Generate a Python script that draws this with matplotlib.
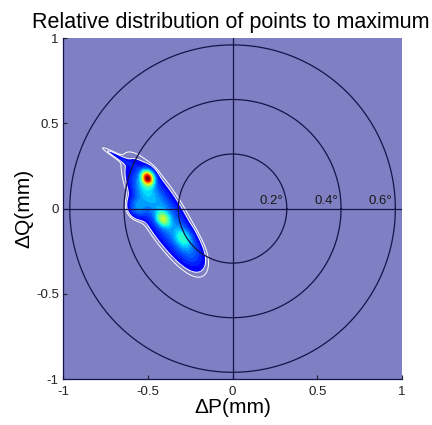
import numpy as np
import matplotlib.pyplot as plt

# blob components: centre, spread along/across, angle, relative height
blob_x = [-0.50, -0.41, -0.29, -0.56, -0.41, -0.25, -0.67, -0.52]
blob_y = [0.18, -0.06, -0.17, 0.01, -0.03, -0.24, 0.30, 0.12]
blob_major = [0.028, 0.03, 0.04, 0.04, 0.20, 0.07, 0.09, 0.06]
blob_minor = [0.022, 0.022, 0.03, 0.035, 0.06, 0.04, 0.009, 0.04]
blob_angle = [-65, -57, -57, -70, -58, -57, -30, -60]
blob_weight = [0.75, 0.30, 0.16, 0.15, 0.20, 0.08, 0.045, 0.12]

ring_radius = [0.32, 0.64, 0.96]
ring_labels = ['0.2°', '0.4°', '0.6°']
ticks = [-1, -0.5, 0, 0.5, 1]
tick_labels = ['-1', '-0.5', '0', '0.5', '1']

plt.rcParams['font.family'] = ['Liberation Sans', 'DejaVu Sans']

fig = plt.figure(figsize=(4.32, 4.25), dpi=100)
ax = fig.add_axes([0.1458, 0.108, 0.785, 0.8024])
ax.set_facecolor('#7f7fc3')

# density field
g = np.linspace(-1, 1, 400)
X, Y = np.meshgrid(g, g)
Z = np.zeros_like(X)
for cx, cy, sa, sb, ang, w in zip(blob_x, blob_y, blob_major, blob_minor, blob_angle, blob_weight):
    t = np.deg2rad(ang)
    u = (X - cx) * np.cos(t) + (Y - cy) * np.sin(t)
    v = -(X - cx) * np.sin(t) + (Y - cy) * np.cos(t)
    Z += w * np.exp(-0.5 * ((u / sa) ** 2 + (v / sb) ** 2))
Z = Z / Z.max()

levels = np.linspace(0.04, 1.0, 30)
Zm = np.ma.masked_less(Z, 0.04)
ax.contourf(X, Y, Zm, levels=levels, cmap='jet', vmin=-0.08, vmax=1.0, zorder=1)
ax.contour(X, Y, Z, levels=[0.025, 0.04], colors='white', linewidths=0.7, zorder=2)

# reference rings and axes cross
th = np.linspace(0, 2 * np.pi, 400)
for r, lab in zip(ring_radius, ring_labels):
    ax.plot(r * np.cos(th), r * np.sin(th), color='#14144a', lw=0.9, zorder=3)
    ax.text(r - 0.02, 0.012, lab, ha='right', va='bottom', fontsize=9.5,
            color='#1a1a1a', zorder=4)
ax.axhline(0, color='#14144a', lw=0.9, zorder=3)
ax.axvline(0, color='#14144a', lw=0.9, zorder=3)

ax.set_xlim(-1, 1)
ax.set_ylim(-1, 1)
ax.set_xticks(ticks)
ax.set_xticklabels(tick_labels)
ax.set_yticks(ticks)
ax.set_yticklabels(tick_labels)
ax.tick_params(direction='in', length=3, labelsize=9.5, colors='#222222')
ax.tick_params(axis='x', pad=5)
ax.tick_params(axis='y', pad=3)
for s in ['top', 'right']:
    ax.spines[s].set_visible(False)
for s in ['left', 'bottom']:
    ax.spines[s].set_color('#14144a')
    ax.spines[s].set_linewidth(0.9)

ax.set_xlabel('ΔP(mm)', fontsize=15, labelpad=0)
ax.set_ylabel('ΔQ(mm)', fontsize=15, labelpad=2)
ax.set_title('Relative distribution of points to maximum', fontsize=15.5, pad=7, x=0.495)

fig.savefig('out.png', dpi=100)
